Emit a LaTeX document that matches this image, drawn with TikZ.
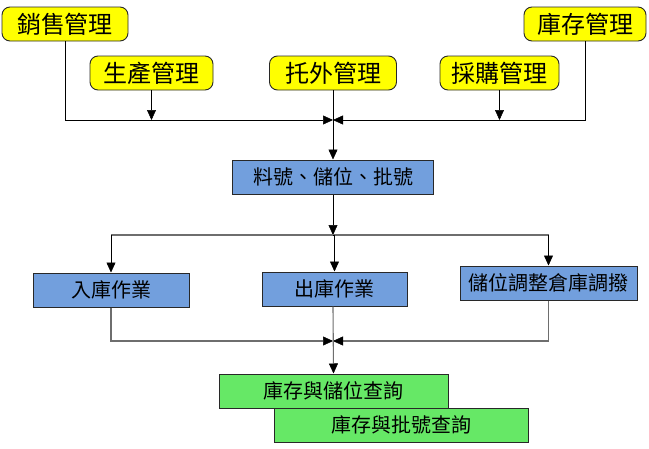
\documentclass[tikz,border=0pt]{standalone}
\usepackage{fontspec}
\newfontfamily\cjk{Noto Sans CJK TC}
\usetikzlibrary{arrows.meta}
\definecolor{ybox}{RGB}{255,255,0}
\definecolor{bbox}{RGB}{114,159,221}
\definecolor{gbox}{RGB}{102,232,102}
\definecolor{edge}{RGB}{40,40,40}
\definecolor{gline}{RGB}{110,110,110}
\tikzset{
  ynode/.style={draw=edge, line width=0.9pt, fill=ybox, rounded corners=8pt, minimum height=34pt, inner sep=0pt, font=\cjk\fontsize{24}{24}\selectfont},
  bnode/.style={draw=edge, line width=1pt, fill=bbox, minimum height=34pt, inner sep=0pt, font=\cjk\fontsize{20}{20}\selectfont},
  gnode/.style={draw=edge, line width=1pt, fill=gbox, minimum height=34pt, inner sep=0pt, font=\cjk\fontsize{20}{20}\selectfont},
  conn/.style={draw=black, line width=0.9pt},
  gconn/.style={draw=gline, line width=1.1pt},
  arr/.style={-{Triangle[width=9pt,length=10pt,line width=0.5pt,color=black,fill=black]}},
}
\begin{document}
\begin{tikzpicture}[x=1pt,y=-1pt]
\useasboundingbox (0,0) rectangle (649,448);
\fill[white] (0,0) rectangle (649,448);
% junctions
\coordinate (hub) at (333,120);
\coordinate (split) at (333,235);
\coordinate (merge) at (333,341);
% top nodes
\node[ynode, minimum width=126pt] (sales) at (65,24) {銷售管理};
\node[ynode, minimum width=123pt] (prod) at (151.5,73) {生產管理};
\node[ynode, minimum width=127pt] (outs) at (333,73) {托外管理};
\node[ynode, minimum width=119pt] (purch) at (499.5,73) {採購管理};
\node[ynode, minimum width=122pt] (inv) at (585,24) {庫存管理};
% middle
\node[bnode, minimum width=201pt] (mat) at (333,177) {料號、儲位、批號};
\node[bnode, minimum width=156pt] (in) at (111,290) {入庫作業};
\node[bnode, minimum width=145pt] (out) at (334.5,289) {出庫作業};
\node[bnode, minimum width=177pt] (adj) at (548.5,283) {儲位調整倉庫調撥};
% bottom
\node[gnode, minimum width=229pt] (q1) at (333.5,391) {庫存與儲位查詢};
\node[gnode, minimum width=254pt] (q2) at (401,425) {庫存與批號查詢};
% top connectors
\draw[conn, arr] (sales.south) -- (sales.south |- hub) -- (hub);
\draw[conn, arr] (inv.south) -- (inv.south |- hub) -- (hub);
\draw[conn, arr] (prod.south) -- (prod.south |- hub);
\draw[conn, arr] (purch.south) -- (purch.south |- hub);
\draw[conn, arr] (outs.south) -- (mat.north);
% split
\draw[conn, arr] (mat.south) -- (split);
\draw[gconn] (split -| in.north) -- (split -| adj.north);
\draw[conn, arr] (split -| in.north) -- (in.north);
\draw[conn, arr] (split) -- (split -| out.north) -- (out.north);
\draw[conn, arr] (split -| adj.north) -- (adj.north);
% merge
\draw[gconn, arr] (in.south) -- (in.south |- merge) -- (merge);
\draw[gconn, arr] (adj.south) -- (adj.south |- merge) -- (merge);
\draw[gconn, arr] (out.south -| merge) -- (q1.north);
\end{tikzpicture}
\end{document}
